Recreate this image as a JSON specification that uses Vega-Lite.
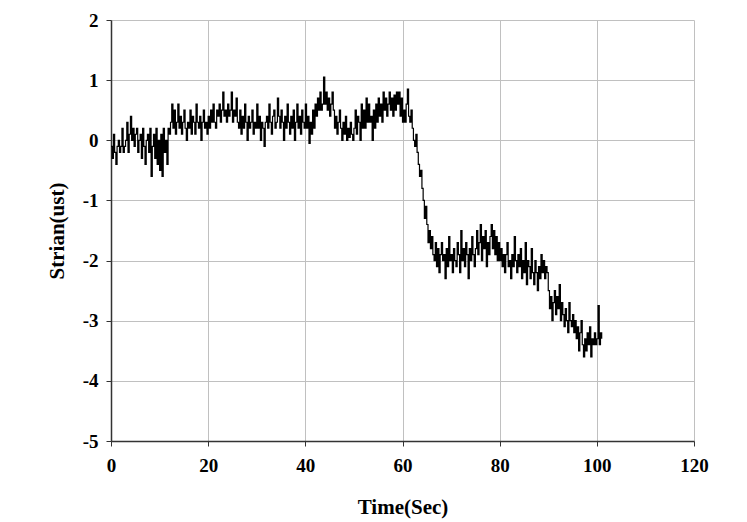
{
  "$schema": "https://vega.github.io/schema/vega-lite/v6.json",
  "width": 583,
  "height": 421,
  "autosize": {"type": "none"},
  "padding": {"left": 111, "top": 20, "right": 53, "bottom": 81},
  "background": "white",
  "view": {"stroke": null},
  "config": {
    "font": "Liberation Serif",
    "axis": {
      "labelFont": "Liberation Serif",
      "labelFontWeight": "bold",
      "labelFontSize": 19,
      "labelColor": "#000000",
      "titleFont": "Liberation Serif",
      "titleFontWeight": "bold",
      "titleFontSize": 21,
      "titleColor": "#000000",
      "gridColor": "#c0c0c0",
      "gridWidth": 1,
      "gridOpacity": 1,
      "domainColor": "#333333",
      "domainWidth": 1.5,
      "tickColor": "#333333",
      "tickSize": 5,
      "tickWidth": 1
    }
  },
  "data": {
    "values": [
      {"t":0,"s":-0.1},{"t":0.25,"s":-0.3},{"t":0.5,"s":0.1},{"t":0.75,"s":-0.2},
      {"t":1,"s":-0.4},{"t":1.25,"s":-0.1},{"t":1.5,"s":0.0},{"t":1.75,"s":-0.2},
      {"t":2,"s":-0.1},{"t":2.25,"s":0.2},{"t":2.5,"s":-0.2},{"t":2.75,"s":-0.1},
      {"t":3,"s":0.0},{"t":3.25,"s":0.3},{"t":3.5,"s":-0.2},{"t":3.75,"s":0.1},
      {"t":4,"s":0.4},{"t":4.25,"s":0.0},{"t":4.5,"s":0.2},{"t":4.75,"s":-0.1},
      {"t":5,"s":0.1},{"t":5.25,"s":0.2},{"t":5.5,"s":-0.2},{"t":5.75,"s":0.0},
      {"t":6,"s":0.1},{"t":6.25,"s":-0.3},{"t":6.5,"s":0.2},{"t":6.75,"s":-0.1},
      {"t":7,"s":-0.4},{"t":7.25,"s":0.0},{"t":7.5,"s":0.1},{"t":7.75,"s":-0.2},
      {"t":8,"s":0.2},{"t":8.25,"s":-0.6},{"t":8.5,"s":-0.1},{"t":8.75,"s":0.1},
      {"t":9,"s":-0.3},{"t":9.25,"s":0.2},{"t":9.5,"s":-0.4},{"t":9.75,"s":0.0},
      {"t":10,"s":-0.5},{"t":10.25,"s":0.1},{"t":10.5,"s":-0.6},{"t":10.75,"s":0.2},
      {"t":11,"s":-0.2},{"t":11.25,"s":0.0},{"t":11.5,"s":-0.4},{"t":11.75,"s":0.2},
      {"t":12,"s":0.1},{"t":12.25,"s":0.3},{"t":12.5,"s":0.6},{"t":12.75,"s":0.2},
      {"t":13,"s":0.5},{"t":13.25,"s":0.1},{"t":13.5,"s":0.3},{"t":13.75,"s":0.6},
      {"t":14,"s":0.2},{"t":14.25,"s":0.4},{"t":14.5,"s":0.1},{"t":14.75,"s":0.3},
      {"t":15,"s":0.5},{"t":15.25,"s":0.2},{"t":15.5,"s":0.0},{"t":15.75,"s":0.3},
      {"t":16,"s":0.2},{"t":16.25,"s":0.5},{"t":16.5,"s":0.1},{"t":16.75,"s":0.4},
      {"t":17,"s":0.3},{"t":17.25,"s":0.1},{"t":17.5,"s":0.6},{"t":17.75,"s":0.3},
      {"t":18,"s":0.2},{"t":18.25,"s":0.4},{"t":18.5,"s":0.0},{"t":18.75,"s":0.3},
      {"t":19,"s":0.5},{"t":19.25,"s":0.2},{"t":19.5,"s":0.3},{"t":19.75,"s":0.1},
      {"t":20,"s":0.4},{"t":20.25,"s":0.2},{"t":20.5,"s":0.5},{"t":20.75,"s":0.3},
      {"t":21,"s":0.6},{"t":21.25,"s":0.3},{"t":21.5,"s":0.2},{"t":21.75,"s":0.5},
      {"t":22,"s":0.4},{"t":22.25,"s":0.6},{"t":22.5,"s":0.3},{"t":22.75,"s":0.5},
      {"t":23,"s":0.8},{"t":23.25,"s":0.4},{"t":23.5,"s":0.5},{"t":23.75,"s":0.3},
      {"t":24,"s":0.6},{"t":24.25,"s":0.4},{"t":24.5,"s":0.5},{"t":24.75,"s":0.8},
      {"t":25,"s":0.3},{"t":25.25,"s":0.5},{"t":25.5,"s":0.4},{"t":25.75,"s":0.7},
      {"t":26,"s":0.3},{"t":26.25,"s":0.2},{"t":26.5,"s":0.5},{"t":26.75,"s":0.1},
      {"t":27,"s":0.4},{"t":27.25,"s":0.2},{"t":27.5,"s":0.6},{"t":27.75,"s":0.3},
      {"t":28,"s":0.0},{"t":28.25,"s":0.4},{"t":28.5,"s":0.2},{"t":28.75,"s":0.3},
      {"t":29,"s":0.5},{"t":29.25,"s":0.1},{"t":29.5,"s":0.3},{"t":29.75,"s":0.2},
      {"t":30,"s":0.6},{"t":30.25,"s":0.2},{"t":30.5,"s":0.4},{"t":30.75,"s":0.0},
      {"t":31,"s":0.3},{"t":31.25,"s":0.2},{"t":31.5,"s":-0.1},{"t":31.75,"s":0.3},
      {"t":32,"s":0.4},{"t":32.25,"s":0.2},{"t":32.5,"s":0.6},{"t":32.75,"s":0.3},
      {"t":33,"s":0.1},{"t":33.25,"s":0.4},{"t":33.5,"s":0.5},{"t":33.75,"s":0.2},
      {"t":34,"s":0.3},{"t":34.25,"s":0.7},{"t":34.5,"s":0.4},{"t":34.75,"s":0.2},
      {"t":35,"s":0.5},{"t":35.25,"s":0.3},{"t":35.5,"s":0.0},{"t":35.75,"s":0.4},
      {"t":36,"s":0.2},{"t":36.25,"s":0.6},{"t":36.5,"s":0.3},{"t":36.75,"s":0.1},
      {"t":37,"s":0.4},{"t":37.25,"s":0.2},{"t":37.5,"s":0.5},{"t":37.75,"s":0.0},
      {"t":38,"s":0.3},{"t":38.25,"s":0.6},{"t":38.5,"s":0.2},{"t":38.75,"s":0.4},
      {"t":39,"s":0.1},{"t":39.25,"s":0.5},{"t":39.5,"s":0.3},{"t":39.75,"s":0.2},
      {"t":40,"s":0.6},{"t":40.25,"s":0.2},{"t":40.5,"s":0.4},{"t":40.75,"s":-0.05},
      {"t":41,"s":0.3},{"t":41.25,"s":0.1},{"t":41.5,"s":0.5},{"t":41.75,"s":0.2},
      {"t":42,"s":0.6},{"t":42.25,"s":0.4},{"t":42.5,"s":0.7},{"t":42.75,"s":0.5},
      {"t":43,"s":0.8},{"t":43.25,"s":0.5},{"t":43.5,"s":0.6},{"t":43.75,"s":1.05},
      {"t":44,"s":0.6},{"t":44.25,"s":0.8},{"t":44.5,"s":0.5},{"t":44.75,"s":0.7},
      {"t":45,"s":0.4},{"t":45.25,"s":0.6},{"t":45.5,"s":0.8},{"t":45.75,"s":0.5},
      {"t":46,"s":0.2},{"t":46.25,"s":0.4},{"t":46.5,"s":0.1},{"t":46.75,"s":0.3},
      {"t":47,"s":0.5},{"t":47.25,"s":0.2},{"t":47.5,"s":0.0},{"t":47.75,"s":0.3},
      {"t":48,"s":0.1},{"t":48.25,"s":0.4},{"t":48.5,"s":0.0},{"t":48.75,"s":0.2},
      {"t":49,"s":0.05},{"t":49.25,"s":0.3},{"t":49.5,"s":0.1},{"t":49.75,"s":0.0},
      {"t":50,"s":0.2},{"t":50.25,"s":0.5},{"t":50.5,"s":0.1},{"t":50.75,"s":0.4},
      {"t":51,"s":0.3},{"t":51.25,"s":0.0},{"t":51.5,"s":0.6},{"t":51.75,"s":0.2},
      {"t":52,"s":0.5},{"t":52.25,"s":0.2},{"t":52.5,"s":0.7},{"t":52.75,"s":0.3},
      {"t":53,"s":0.6},{"t":53.25,"s":0.3},{"t":53.5,"s":0.4},{"t":53.75,"s":0.0},
      {"t":54,"s":0.5},{"t":54.25,"s":0.2},{"t":54.5,"s":0.6},{"t":54.75,"s":0.3},
      {"t":55,"s":0.7},{"t":55.25,"s":0.4},{"t":55.5,"s":0.6},{"t":55.75,"s":0.3},
      {"t":56,"s":0.8},{"t":56.25,"s":0.5},{"t":56.5,"s":0.7},{"t":56.75,"s":0.4},
      {"t":57,"s":0.6},{"t":57.25,"s":0.8},{"t":57.5,"s":0.5},{"t":57.75,"s":0.7},
      {"t":58,"s":0.4},{"t":58.25,"s":0.75},{"t":58.5,"s":0.5},{"t":58.75,"s":0.8},
      {"t":59,"s":0.6},{"t":59.25,"s":0.8},{"t":59.5,"s":0.4},{"t":59.75,"s":0.7},
      {"t":60,"s":0.3},{"t":60.25,"s":0.5},{"t":60.5,"s":0.3},{"t":60.75,"s":0.6},
      {"t":61,"s":0.85},{"t":61.25,"s":0.4},{"t":61.5,"s":0.3},{"t":61.75,"s":0.5},
      {"t":62,"s":0.2},{"t":62.25,"s":0.0},{"t":62.5,"s":-0.1},{"t":62.75,"s":0.1},
      {"t":63,"s":-0.2},{"t":63.25,"s":-0.4},{"t":63.5,"s":-0.6},{"t":63.75,"s":-0.5},
      {"t":64,"s":-0.8},{"t":64.25,"s":-1.0},{"t":64.5,"s":-1.3},{"t":64.75,"s":-1.1},
      {"t":65,"s":-1.4},{"t":65.25,"s":-1.7},{"t":65.5,"s":-1.5},{"t":65.75,"s":-1.8},
      {"t":66,"s":-1.6},{"t":66.25,"s":-1.9},{"t":66.5,"s":-2.0},{"t":66.75,"s":-1.7},
      {"t":67,"s":-2.1},{"t":67.25,"s":-1.8},{"t":67.5,"s":-2.2},{"t":67.75,"s":-1.9},
      {"t":68,"s":-1.7},{"t":68.25,"s":-2.0},{"t":68.5,"s":-1.9},{"t":68.75,"s":-2.3},
      {"t":69,"s":-1.8},{"t":69.25,"s":-2.1},{"t":69.5,"s":-1.6},{"t":69.75,"s":-2.0},
      {"t":70,"s":-1.9},{"t":70.25,"s":-2.2},{"t":70.5,"s":-1.8},{"t":70.75,"s":-2.0},
      {"t":71,"s":-2.1},{"t":71.25,"s":-1.7},{"t":71.5,"s":-1.9},{"t":71.75,"s":-2.2},
      {"t":72,"s":-1.5},{"t":72.25,"s":-2.0},{"t":72.5,"s":-1.8},{"t":72.75,"s":-2.1},
      {"t":73,"s":-1.7},{"t":73.25,"s":-1.9},{"t":73.5,"s":-2.3},{"t":73.75,"s":-1.8},
      {"t":74,"s":-2.0},{"t":74.25,"s":-1.6},{"t":74.5,"s":-1.9},{"t":74.75,"s":-2.1},
      {"t":75,"s":-1.8},{"t":75.25,"s":-1.5},{"t":75.5,"s":-1.9},{"t":75.75,"s":-1.7},
      {"t":76,"s":-1.4},{"t":76.25,"s":-2.0},{"t":76.5,"s":-1.6},{"t":76.75,"s":-1.8},
      {"t":77,"s":-1.5},{"t":77.25,"s":-2.1},{"t":77.5,"s":-1.7},{"t":77.75,"s":-1.9},
      {"t":78,"s":-1.6},{"t":78.25,"s":-1.4},{"t":78.5,"s":-1.8},{"t":78.75,"s":-1.5},
      {"t":79,"s":-1.9},{"t":79.25,"s":-1.6},{"t":79.5,"s":-2.0},{"t":79.75,"s":-1.7},
      {"t":80,"s":-2.0},{"t":80.25,"s":-1.8},{"t":80.5,"s":-2.1},{"t":80.75,"s":-1.9},
      {"t":81,"s":-2.2},{"t":81.25,"s":-1.9},{"t":81.5,"s":-1.7},{"t":81.75,"s":-2.1},
      {"t":82,"s":-2.0},{"t":82.25,"s":-2.3},{"t":82.5,"s":-1.9},{"t":82.75,"s":-2.1},
      {"t":83,"s":-1.6},{"t":83.25,"s":-2.0},{"t":83.5,"s":-2.2},{"t":83.75,"s":-1.9},
      {"t":84,"s":-2.1},{"t":84.25,"s":-1.8},{"t":84.5,"s":-2.3},{"t":84.75,"s":-2.0},
      {"t":85,"s":-2.2},{"t":85.25,"s":-1.7},{"t":85.5,"s":-2.4},{"t":85.75,"s":-2.0},
      {"t":86,"s":-2.1},{"t":86.25,"s":-2.3},{"t":86.5,"s":-1.8},{"t":86.75,"s":-2.2},
      {"t":87,"s":-2.4},{"t":87.25,"s":-2.0},{"t":87.5,"s":-2.2},{"t":87.75,"s":-2.5},
      {"t":88,"s":-2.1},{"t":88.25,"s":-2.3},{"t":88.5,"s":-1.9},{"t":88.75,"s":-2.2},
      {"t":89,"s":-2.0},{"t":89.25,"s":-2.3},{"t":89.5,"s":-2.1},{"t":89.75,"s":-2.2},
      {"t":90,"s":-2.5},{"t":90.25,"s":-2.8},{"t":90.5,"s":-2.6},{"t":90.75,"s":-3.0},
      {"t":91,"s":-2.7},{"t":91.25,"s":-2.5},{"t":91.5,"s":-2.9},{"t":91.75,"s":-2.6},
      {"t":92,"s":-2.8},{"t":92.25,"s":-2.4},{"t":92.5,"s":-3.0},{"t":92.75,"s":-2.7},
      {"t":93,"s":-2.9},{"t":93.25,"s":-3.1},{"t":93.5,"s":-2.8},{"t":93.75,"s":-3.0},
      {"t":94,"s":-3.2},{"t":94.25,"s":-2.7},{"t":94.5,"s":-3.0},{"t":94.75,"s":-3.1},
      {"t":95,"s":-2.9},{"t":95.25,"s":-3.2},{"t":95.5,"s":-3.0},{"t":95.75,"s":-3.3},
      {"t":96,"s":-3.1},{"t":96.25,"s":-3.5},{"t":96.5,"s":-3.2},{"t":96.75,"s":-3.0},
      {"t":97,"s":-3.4},{"t":97.25,"s":-3.6},{"t":97.5,"s":-3.3},{"t":97.75,"s":-3.5},
      {"t":98,"s":-3.2},{"t":98.25,"s":-3.4},{"t":98.5,"s":-3.1},{"t":98.75,"s":-3.6},
      {"t":99,"s":-3.3},{"t":99.25,"s":-3.4},{"t":99.5,"s":-3.2},{"t":99.75,"s":-3.4},
      {"t":100,"s":-3.3},{"t":100.25,"s":-2.75},{"t":100.5,"s":-3.4},{"t":100.75,"s":-3.2},
      {"t":101,"s":-3.3}
    ]
  },
  "mark": {"type": "line", "color": "#000000", "strokeWidth": 1.2, "interpolate": "step-after"},
  "encoding": {
    "x": {
      "field": "t",
      "type": "quantitative",
      "title": "Time(Sec)",
      "scale": {"domain": [0, 120], "nice": false, "zero": false},
      "axis": {"values": [0, 20, 40, 60, 80, 100, 120], "labelPadding": 10, "titlePadding": 21, "grid": true, "labelFlush": false, "labelExpr": "'' + datum.value"}
    },
    "y": {
      "field": "s",
      "type": "quantitative",
      "title": "Strian(ust)",
      "scale": {"domain": [-5, 2], "nice": false, "zero": false},
      "axis": {"values": [-5, -4, -3, -2, -1, 0, 1, 2], "labelPadding": 8, "titlePadding": 15, "grid": true, "labelFlush": false, "labelExpr": "'' + datum.value"}
    }
  }
}
